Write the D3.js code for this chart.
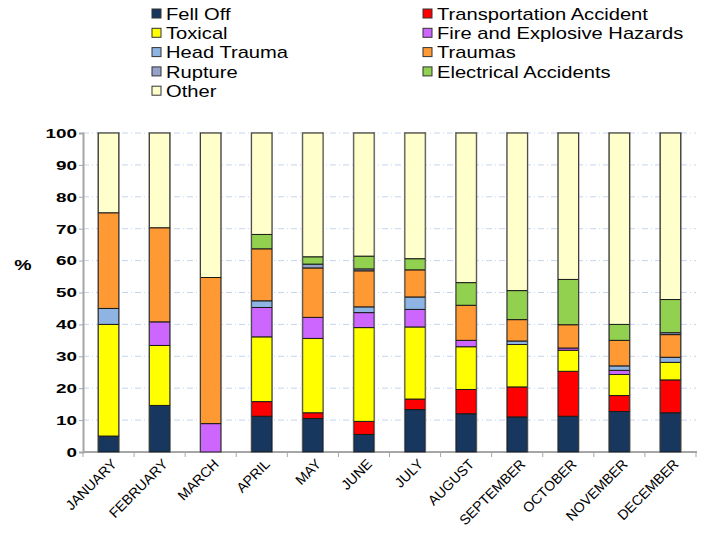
<!DOCTYPE html>
<html>
<head>
<meta charset="utf-8">
<script src="https://cdn.jsdelivr.net/npm/d3@7"></script>
<style>
  body { margin: 0; background: #fff; }
  svg { font-family: "Liberation Sans", Arial, sans-serif; }
</style>
</head>
<body>
<script>
// months along the x axis
const months = ["JANUARY","FEBRUARY","MARCH","APRIL","MAY","JUNE","JULY",
                "AUGUST","SEPTEMBER","OCTOBER","NOVEMBER","DECEMBER"]

// series in legend order (stack order bottom -> top)
const series = ["Fell Off","Transportation Accident","Toxical","Fire and Explosive Hazards",
                "Head Trauma","Traumas","Rupture","Electrical Accidents","Other"]
const colors = ["#17375E","#FF0000","#FFFF00","#CC66FF","#8DB4E2","#FF9933","#95A3C8","#92D050","#FFFFCC"]

// percentages per month
const fellOff    = [5.0, 14.6, 0,   11.2, 10.5, 5.5, 13.3, 12.0, 11.0, 11.2, 12.7, 12.3]
const transport  = [0,   0,    0,   4.6,  1.8,  4.1, 3.3,  7.6,  9.4,  14.1, 5.0,  10.3]
const toxical    = [35.0,18.8, 0,   20.3, 23.3, 29.4,22.6, 13.4, 13.3, 6.6,  6.6,  5.5]
const fire       = [0,   7.4,  8.9, 9.2,  6.6,  4.7, 5.5,  2.0,  0,    0.7,  1.3,  0]
const headTrauma = [5.0, 0,    0,   2.1,  0,    1.8, 3.9,  0,    1.1,  0,    1.4,  1.6]
const traumas    = [30.0,29.5, 45.8,16.3, 15.5, 11.3,8.5,  11.0, 6.7,  7.3,  8.0,  7.1]
const rupture    = [0,   0,    0,   0,    1.2,  0.6, 0,    0,    0,    0,    0,    0.6]
const electrical = [0,   0,    0,   4.5,  2.3,  4.0, 3.5,  7.1,  9.1,  14.2, 5.0,  10.4]
const other      = [25.0,29.7, 45.3,31.8, 38.8, 38.6,39.4, 46.9, 49.4, 45.9, 60.0, 52.2]

const values = [fellOff, transport, toxical, fire, headTrauma, traumas, rupture, electrical, other]
const yTicks = d3.range(0, 101, 10)

const width = 701, height = 533
const svg = d3.select("body").append("svg").attr("width", width).attr("height", height)

const rows = months.map((m, i) => {
    const r = {month: m}
    series.forEach((s, k) => r[s] = values[k][i])
    return r
})
const stacked = d3.stack().keys(series)(rows)

const x = d3.scaleBand().domain(months).range([83, 696]).paddingInner(0.6).paddingOuter(0.3)
const y = d3.scaleLinear().domain([0, 100]).range([452, 133])
const color = d3.scaleOrdinal().domain(series).range(colors)

// gridlines
svg.append("g")
    .selectAll("line")
    .data(yTicks.filter(d => d > 0))
    .join("line")
        .attr("x1", 83).attr("x2", 696)
        .attr("y1", d => y(d)).attr("y2", d => y(d))
        .attr("stroke", "#C5D6EE")
        .attr("stroke-dasharray", "6,3,1,3")

// y axis
const yAxis = svg.append("g")
    .attr("transform", "translate(83,0)")
    .call(d3.axisLeft(y).tickValues(yTicks).tickSize(4).tickPadding(0))
yAxis.select(".domain").attr("stroke", "#A6A6A6").attr("stroke-width", 2)
yAxis.selectAll(".tick line").attr("stroke", "#A6A6A6")
yAxis.selectAll("text")
    .attr("x", 0)
    .attr("transform", "translate(-6,0) scale(1.4,1)")
    .attr("font-size", 13.5).attr("font-weight", "bold").attr("fill", "#000")

svg.append("text")
    .attr("transform", "translate(23,270) scale(1.3,1)")
    .attr("text-anchor", "middle")
    .attr("font-size", 15).attr("font-weight", "bold")
    .text("%")

// x axis baseline + ticks between categories
svg.append("line")
    .attr("x1", 83).attr("x2", 697).attr("y1", 452).attr("y2", 452)
    .attr("stroke", "#A6A6A6").attr("stroke-width", 2)
svg.append("g")
    .selectAll("line")
    .data(d3.range(months.length + 1))
    .join("line")
        .attr("x1", i => 83 + i * x.step()).attr("x2", i => 83 + i * x.step())
        .attr("y1", 452).attr("y2", 457)
        .attr("stroke", "#A6A6A6")

// month labels
svg.append("g")
    .selectAll("text")
    .data(months)
    .join("text")
        .attr("transform", d => `translate(${x(d) + x.bandwidth() / 2 + 9},${465}) rotate(-45)`)
        .attr("text-anchor", "end")
        .attr("font-size", 14)
        .text(d => d)

// bars
svg.append("g")
    .selectAll("g")
    .data(stacked)
    .join("g")
        .attr("fill", d => color(d.key))
    .selectAll("rect")
    .data(d => d.filter(p => p[1] - p[0] > 0))
    .join("rect")
        .attr("x", d => x(d.data.month))
        .attr("width", x.bandwidth())
        .attr("y", d => y(d[1]))
        .attr("height", d => y(d[0]) - y(d[1]))
        .attr("stroke", "#1a1a1a")
        .attr("stroke-width", 1)

// outer grey outline of each bar
svg.append("g")
    .selectAll("rect")
    .data(months)
    .join("rect")
        .attr("x", d => x(d) - 0.5).attr("width", x.bandwidth() + 1)
        .attr("y", y(100) - 0.5).attr("height", y(0) - y(100) + 1)
        .attr("fill", "none").attr("stroke", "#777").attr("stroke-width", 0.8)

// legend, two columns filled row-wise
const legend = svg.append("g")
    .selectAll("g")
    .data(series)
    .join("g")
        .attr("transform", (d, i) => `translate(${i === 8 ? 152 : (i % 2 ? 423 : 152)},${(i === 8 ? 4 : Math.floor(i / 2)) * 19.3 + 14})`)
legend.append("rect")
    .attr("x", 0).attr("y", -5).attr("width", 9).attr("height", 9)
    .attr("fill", d => color(d)).attr("stroke", "#333").attr("stroke-width", 1)
legend.append("text")
    .attr("transform", "translate(14,0) scale(1.26,1)")
    .attr("dy", "0.36em")
    .attr("font-size", 16)
    .text(d => d)
</script>
</body>
</html>
